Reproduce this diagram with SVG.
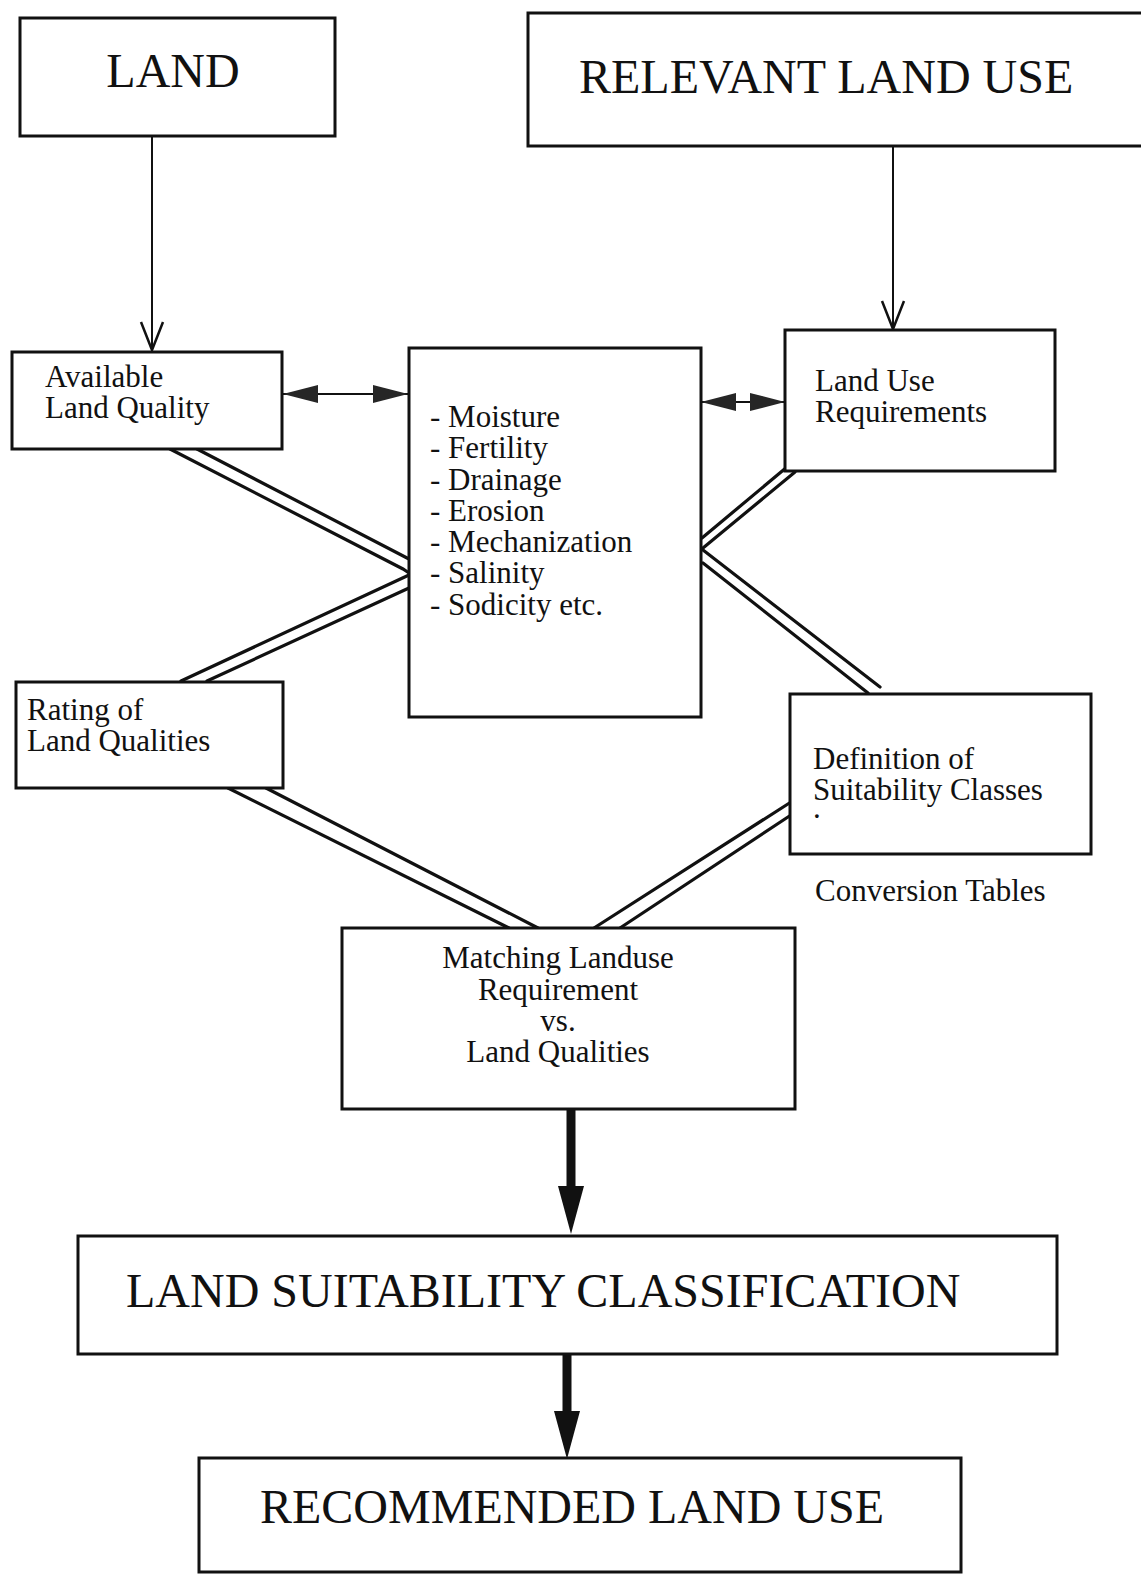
<svg xmlns="http://www.w3.org/2000/svg" width="1141" height="1578" viewBox="0 0 1141 1578">
  <style>
    .box { fill: #ffffff; stroke: #111111; stroke-width: 3; }
    .big { font-family: "Liberation Serif", "Times New Roman", serif; font-size: 48px; fill: #111111; }
    .small { font-family: "Liberation Serif", "Times New Roman", serif; font-size: 31px; fill: #111111; }
    .thin { stroke: #111111; stroke-width: 2; fill: none; }
    .dbl { stroke: #111111; stroke-width: 3.2; fill: none; stroke-linecap: round; }
    .thick { stroke: #111111; stroke-width: 9; fill: none; }
  </style>
  <defs>
    <marker id="vhead" markerUnits="userSpaceOnUse" orient="auto" refX="0" refY="0" markerWidth="40" markerHeight="30" overflow="visible">
      <path d="M -28 -11 L 0 0 L -28 11" fill="none" stroke="#111111" stroke-width="2.5"/>
    </marker>
    <marker id="solidhead" markerUnits="userSpaceOnUse" orient="auto-start-reverse" refX="0" refY="0" markerWidth="40" markerHeight="20" overflow="visible">
      <path d="M 0 0 L -35 -9 L -35 9 Z" fill="#262626"/>
    </marker>
    <marker id="bighead" markerUnits="userSpaceOnUse" orient="auto" refX="0" refY="0" markerWidth="50" markerHeight="30" overflow="visible">
      <path d="M 48 0 L 0 -13 L 0 13 Z" fill="#111111"/>
    </marker>
  </defs>

  <rect width="1141" height="1578" fill="#ffffff"/>

  <!-- connectors -->
  <g id="connectors">
    <line class="thin" x1="152" y1="136" x2="152" y2="350" marker-end="url(#vhead)"/>
    <line class="thin" x1="893" y1="146" x2="893" y2="329" marker-end="url(#vhead)"/>

    <line class="thin" x1="283" y1="394" x2="408" y2="394" marker-start="url(#solidhead)" marker-end="url(#solidhead)"/>
    <line class="thin" x1="701" y1="402" x2="785" y2="402" marker-start="url(#solidhead)" marker-end="url(#solidhead)"/>

    <!-- double lines: Available Land Quality to list -->
    <path class="dbl" d="M 170 449 L 403 569 L 409 573"/>
    <path class="dbl" d="M 197 449 L 409 559"/>
    <!-- list to Rating of Land Qualities -->
    <path class="dbl" d="M 409 575 L 181 681"/>
    <path class="dbl" d="M 409 588 L 207 681"/>
    <!-- Land Use Requirements to list -->
    <path class="dbl" d="M 787 467 L 702 538"/>
    <path class="dbl" d="M 795 472 L 703 548"/>
    <!-- list to Definition of Suitability Classes -->
    <path class="dbl" d="M 703 550 L 880 687"/>
    <path class="dbl" d="M 703 563 L 868 693"/>
    <!-- Rating to Matching -->
    <path class="dbl" d="M 228 788 L 509 928"/>
    <path class="dbl" d="M 266 788 L 538 928"/>
    <!-- Definition to Matching -->
    <path class="dbl" d="M 791 802 L 594 928"/>
    <path class="dbl" d="M 791 815 L 620 928"/>

    <line class="thick" x1="571" y1="1110" x2="571" y2="1186" marker-end="url(#bighead)"/>
    <line class="thick" x1="567" y1="1354" x2="567" y2="1411" marker-end="url(#bighead)"/>
  </g>

  <g id="land">
    <rect class="box" x="20" y="18" width="315" height="118"/>
    <text class="big" x="173" y="87" text-anchor="middle">LAND</text>
  </g>

  <g id="relevant-land-use">
    <rect class="box" x="528" y="13" width="620" height="133"/>
    <text class="big" x="579" y="93">RELEVANT LAND USE</text>
  </g>

  <g id="available-land-quality">
    <rect class="box" x="12" y="352" width="270" height="97"/>
    <text class="small" x="45" y="387">Available</text>
    <text class="small" x="45" y="418">Land Quality</text>
  </g>

  <g id="qualities-list">
    <rect class="box" x="409" y="348" width="292" height="369"/>
    <text class="small" x="430" y="427">- Moisture</text>
    <text class="small" x="430" y="458">- Fertility</text>
    <text class="small" x="430" y="490">- Drainage</text>
    <text class="small" x="430" y="521">- Erosion</text>
    <text class="small" x="430" y="552">- Mechanization</text>
    <text class="small" x="430" y="583">- Salinity</text>
    <text class="small" x="430" y="615">- Sodicity etc.</text>
  </g>

  <g id="land-use-requirements">
    <rect class="box" x="785" y="330" width="270" height="141"/>
    <text class="small" x="815" y="391">Land Use</text>
    <text class="small" x="815" y="422">Requirements</text>
  </g>

  <g id="rating-of-land-qualities">
    <rect class="box" x="16" y="682" width="267" height="106"/>
    <text class="small" x="27" y="720">Rating of</text>
    <text class="small" x="27" y="751">Land Qualities</text>
  </g>

  <g id="definition-of-suitability-classes">
    <rect class="box" x="790" y="694" width="301" height="160"/>
    <text class="small" x="813" y="769">Definition of</text>
    <text class="small" x="813" y="800">Suitability Classes</text>
    <text class="small" x="813" y="818">.</text>
  </g>

  <g id="conversion-tables">
    <text class="small" x="815" y="901">Conversion Tables</text>
  </g>

  <g id="matching">
    <rect class="box" x="342" y="928" width="453" height="181"/>
    <text class="small" x="558" y="968" text-anchor="middle">Matching Landuse</text>
    <text class="small" x="558" y="1000" text-anchor="middle">Requirement</text>
    <text class="small" x="558" y="1031" text-anchor="middle">vs.</text>
    <text class="small" x="558" y="1062" text-anchor="middle">Land Qualities</text>
  </g>

  <g id="land-suitability-classification">
    <rect class="box" x="78" y="1236" width="979" height="118"/>
    <text class="big" x="126" y="1307">LAND SUITABILITY CLASSIFICATION</text>
  </g>

  <g id="recommended-land-use">
    <rect class="box" x="199" y="1458" width="762" height="114"/>
    <text class="big" x="260" y="1523">RECOMMENDED LAND USE</text>
  </g>
</svg>
